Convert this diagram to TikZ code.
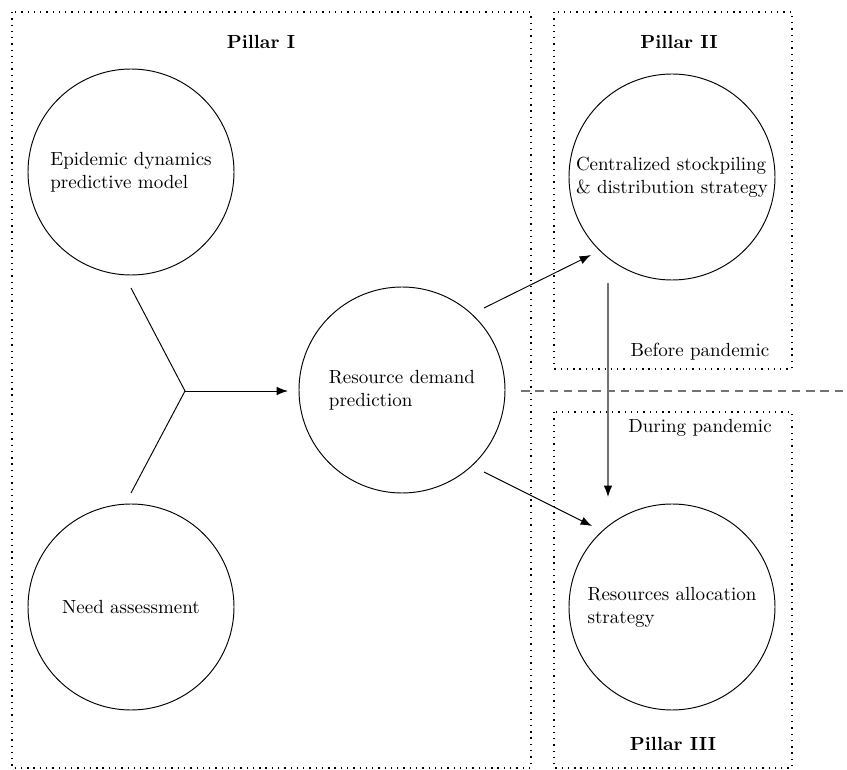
\documentclass[tikz,border=0pt]{standalone}
\usetikzlibrary{arrows.meta}
\begin{document}
\begin{tikzpicture}[x=0.5263pt,y=-0.5263pt,
  pillarbox/.style={line width=0.7pt,dash pattern=on 0.7pt off 2.6pt},
  bubble/.style={circle,draw,line width=0.5pt,minimum size=206*0.5263pt,inner sep=0pt,align=left,font=\normalsize},
  link/.style={line width=0.5pt},
  arr/.style={line width=0.5pt,-{Latex[length=6pt,width=4.5pt]}},
  grayarr/.style={line width=0.6pt,draw=black!55,-{Latex[length=6pt,width=4.5pt,fill=black,color=black]}},
  label/.style={font=\normalsize},
  plabel/.style={font=\normalsize\bfseries}]
\useasboundingbox (0,0) rectangle (847,770);
% pillar boxes
\draw[pillarbox] (12,12) rectangle (531,768);
\draw[pillarbox] (554,12) rectangle (792,369);
\draw[pillarbox] (554,412) rectangle (792,768);
% dashed separator
\coordinate (dsA) at (521,391);
\coordinate (dsB) at (843,391);
\draw[draw=black!55,line width=0.6pt,dash pattern=on 4.5pt off 3pt] (dsA) -- (dsB);
% labels
\node[plabel] (p1) at (261,42) {Pillar I};
\node[plabel] (p2) at (679,42) {Pillar II};
\node[plabel] (p3) at (673,744) {Pillar III};
\node[label] (bp) at (700,352) {Before pandemic};
\node[label] (dp) at (700,428) {During pandemic};
% circles
\node[bubble] (epi) at (131,172) {Epidemic dynamics\\predictive model};
\node[bubble] (need) at (131,607) {Need assessment};
\node[bubble] (rdp) at (402,390) {Resource demand\\prediction};
\node[bubble] (csd) at (672,177) {Centralized stockpiling\\\& distribution strategy};
\node[bubble] (ras) at (672,607) {Resources allocation\\strategy};
% connectors
\coordinate (e1) at (131,288);
\coordinate (n1) at (131,493);
\coordinate (j) at (185,391);
\coordinate (r0) at (288,391);
\draw[link] (e1) -- (j) -- (n1);
\draw[arr] (j) -- (r0);
\coordinate (a1s) at (484,308);
\coordinate (a1e) at (591,255);
\draw[arr] (a1s) -- (a1e);
\coordinate (a2s) at (484,472);
\coordinate (a2e) at (592,526);
\draw[arr] (a2s) -- (a2e);
\coordinate (vs) at (608,283);
\coordinate (ve) at (608,497);
\draw[grayarr] (vs) -- (ve);
\end{tikzpicture}
\end{document}
